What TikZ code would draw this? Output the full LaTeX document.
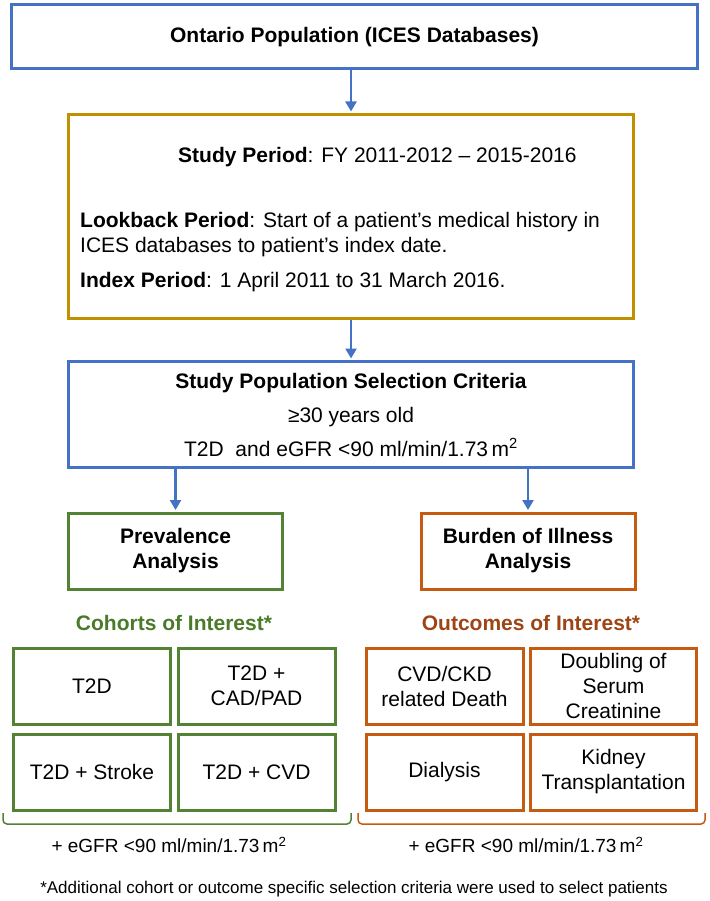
\documentclass[tikz,border=0pt]{standalone}
\usepackage{fontspec}
\setmainfont{Liberation Sans}
\usetikzlibrary{arrows.meta}

\definecolor{flowblue}{HTML}{4472C4}
\definecolor{flowgold}{HTML}{BF9000}
\definecolor{prevgreen}{HTML}{548235}
\definecolor{burdenorange}{HTML}{C55A11}
\definecolor{greentext}{HTML}{4A7A2A}
\definecolor{browntext}{HTML}{9E4516}

\begin{document}
\begin{tikzpicture}[x=1pt,y=-1pt,
    txt/.style={font=\fontsize{21}{25}\selectfont, align=center, inner sep=0pt},
    box/.style={draw, line width=3pt, txt},
    cell/.style={box, minimum height=76pt},
    arr/.style={draw=flowblue, line width=2.5pt, shorten >=1.5pt, -{Triangle[length=10pt,width=11pt]}},
    brk/.style={line width=1.5pt, rounded corners=4pt}]
    \useasboundingbox (0,0) rectangle (709,901);

    % main flow
    \node[box, draw=flowblue, minimum width=686pt, minimum height=64pt, font=\fontsize{21}{25}\selectfont\bfseries]
        (pop) at (354.5,37) {Ontario Population (ICES Databases)};
    \node[box, draw=flowgold, minimum width=565pt, minimum height=204pt] (period) at (351,216.5) {};
    \node[txt, anchor=west] (studyp) at (178,157) {\textbf{Study Period}: FY 2011-2012 -- 2015-2016};
    \node[txt, anchor=west, align=left] (lookb) at (80,235)
        {\textbf{Lookback Period}: Start of a patient’s medical history in\\ICES databases to patient’s index date.};
    \node[txt, anchor=west] (indexp) at (80,282) {\textbf{Index Period}: 1 April 2011 to 31 March 2016.};
    \node[box, draw=flowblue, minimum width=565pt, minimum height=106pt, font=\fontsize{21}{34}\selectfont]
        (sel) at (351,414.5)
        {\textbf{Study Population Selection Criteria}\\≥30 years old\\T2D\ \ and eGFR <90 ml/min/1.73\,m\textsuperscript{2}};

    % two analyses
    \node[box, draw=prevgreen, minimum width=214pt, minimum height=76pt, font=\fontsize{21}{25}\selectfont\bfseries]
        (prev) at (175.5,551) {Prevalence\\Analysis};
    \node[box, draw=burdenorange, minimum width=214pt, minimum height=76pt, font=\fontsize{21}{25}\selectfont\bfseries]
        (burden) at (528,551) {Burden of Illness\\Analysis};

    \draw[arr] (period.north |- pop.south) -- (period.north);
    \draw[arr] (period) -- (sel);
    \draw[arr] (prev.north |- sel.south) -- (prev.north);
    \draw[arr] (burden.north |- sel.south) -- (burden.north);

    % cohorts and outcomes
    \node[txt, font=\fontsize{21}{25}\selectfont\bfseries, text=greentext] (cohorts) at (174,623) {Cohorts of Interest*};
    \node[txt, font=\fontsize{21}{25}\selectfont\bfseries, text=browntext] (outcomes) at (531,623) {Outcomes of Interest*};

    \foreach \nm/\x/\y/\w/\t in {c1/92/686/157/T2D, c2/256.5/686/157/{T2D +\\CAD/PAD},
                                 c3/92/772/157/T2D + Stroke, c4/256.5/772/157/T2D + CVD}
        \node[cell, draw=prevgreen, minimum width=\w pt] (\nm) at (\x,\y) {\t};
    \foreach \nm/\x/\y/\w/\t in {o1/444.5/686/157/{CVD/CKD\\related Death}, o2/613.5/686/166/{Doubling of\\Serum\\Creatinine},
                                 o3/444.5/772/157/Dialysis, o4/613.5/772/166/{Kidney\\Transplantation}}
        \node[cell, draw=burdenorange, minimum width=\w pt] (\nm) at (\x,\y) {\t};

    % brackets under the grids
    \draw[brk, prevgreen] (3,813) -- (3,824) -- (351,824) -- (351,813);
    \draw[brk, burdenorange] (358,813) -- (358,824) -- (705,824) -- (705,813);

    \node[txt, font=\fontsize{19}{23}\selectfont] (egfrl) at (169,845) {+ eGFR <90 ml/min/1.73\,m\textsuperscript{2}};
    \node[txt, font=\fontsize{19}{23}\selectfont] (egfrr) at (526,845) {+ eGFR <90 ml/min/1.73\,m\textsuperscript{2}};

    \node[txt, font=\fontsize{17}{20}\selectfont] (note) at (354,889)
        {*Additional cohort or outcome specific selection criteria were used to select patients};
\end{tikzpicture}
\end{document}
